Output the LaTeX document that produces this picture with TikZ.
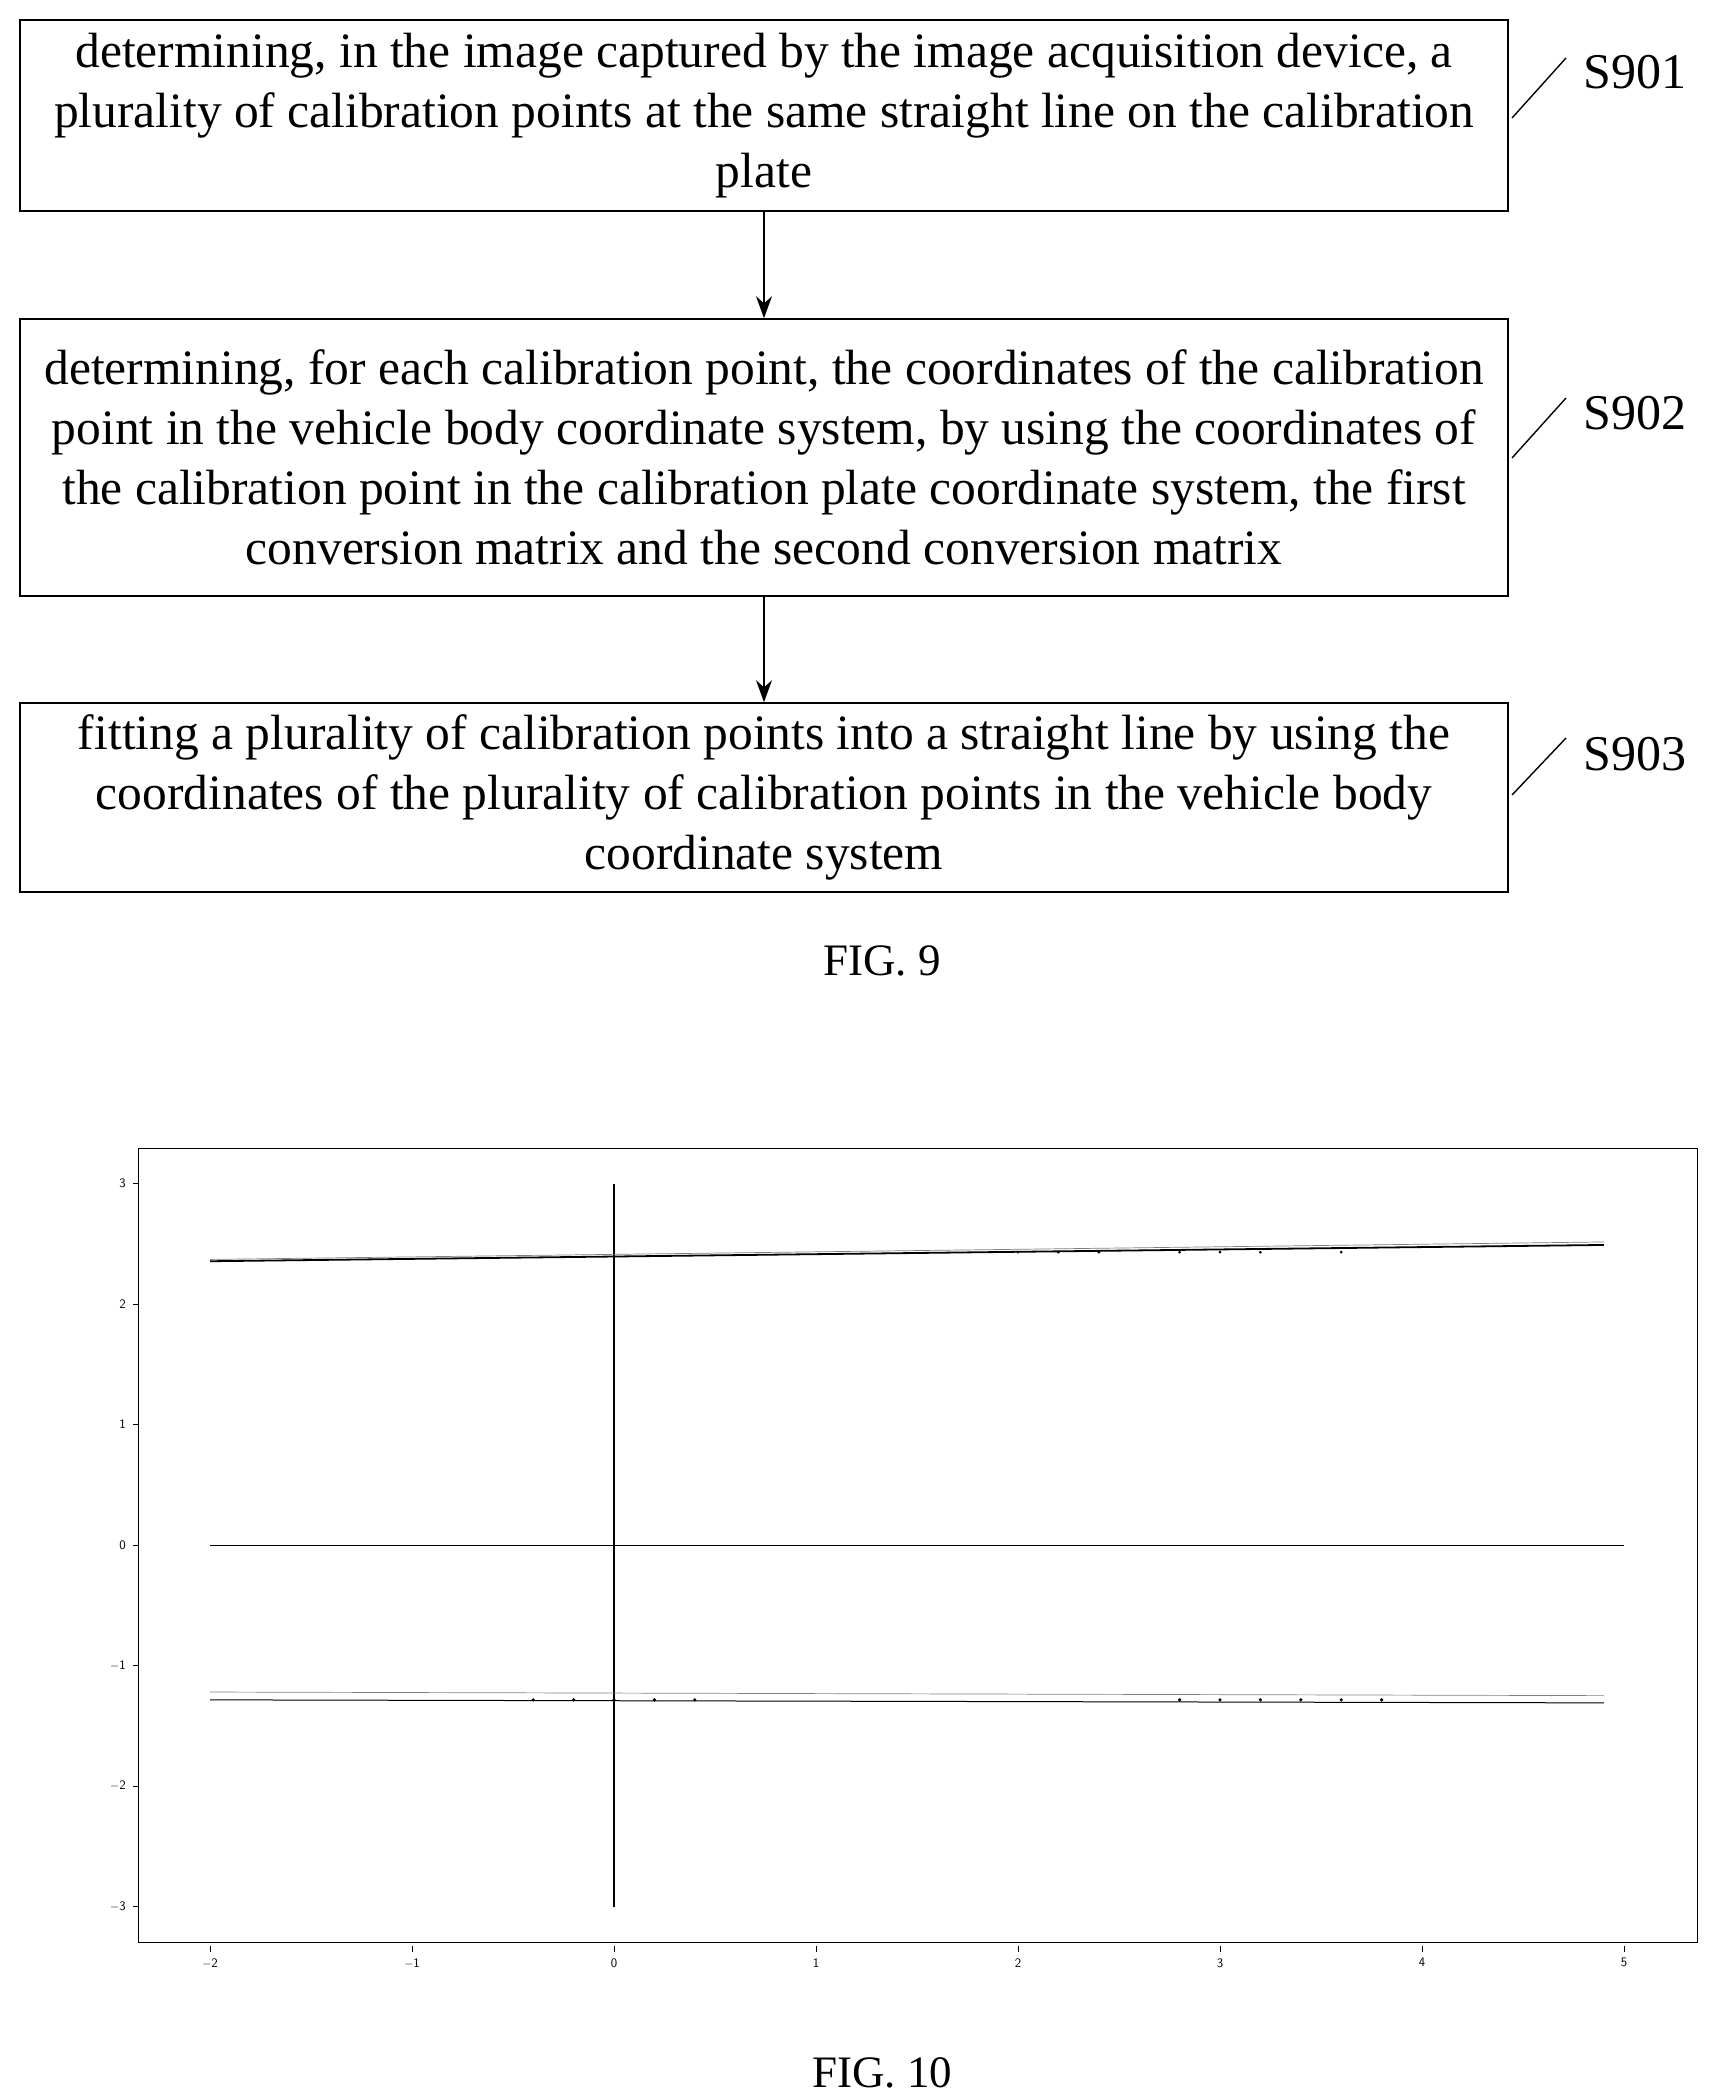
\documentclass[tikz,border=0pt]{standalone}
\usepackage{fontspec}
\setmainfont{Liberation Serif}
\usetikzlibrary{arrows.meta}
\begin{document}
\begin{tikzpicture}[x=1pt,y=-1pt,
  stepbox/.style={draw,line width=1.6pt,minimum width=1488pt,inner sep=0pt,align=center,font=\fontsize{49.5}{60}\selectfont},
  lbl/.style={font=\fontsize{50}{56}\selectfont},
  tick/.style={font=\sffamily\fontsize{13}{14}\selectfont},
  arr/.style={-{Stealth[length=22pt,width=16pt]},line width=1.8pt}]
\useasboundingbox (0,0) rectangle (1723,2098);
\node[stepbox,minimum height=191pt] (b1) at (764,115.5) {determining, in the image captured by the image acquisition device, a\\plurality of calibration points at the same straight line on the calibration\\plate};
\node[stepbox,minimum height=277pt] (b2) at (764,457.5) {determining, for each calibration point, the coordinates of the calibration\\point in the vehicle body coordinate system, by using the coordinates of\\the calibration point in the calibration plate coordinate system, the first\\conversion matrix and the second conversion matrix};
\node[stepbox,minimum height=189pt] (b3) at (764,797.5) {fitting a plurality of calibration points into a straight line by using the\\coordinates of the plurality of calibration points in the vehicle body\\coordinate system};
\draw[arr] (b1.south) -- (b2.north);
\draw[arr] (b2.south) -- (b3.north);
\node[lbl,anchor=west] (s1) at (1580,72) {S901};
\node[lbl,anchor=west] (s2) at (1580,413) {S902};
\node[lbl,anchor=west] (s3) at (1580,754) {S903};
\coordinate (c1) at (1512,118); \coordinate (d1) at (1566,58);
\coordinate (c2) at (1512,458); \coordinate (d2) at (1566,398);
\coordinate (c3) at (1512,795); \coordinate (d3) at (1566,738);
\draw[line width=1.4pt] (c1) -- (d1); \draw[line width=1.4pt] (c2) -- (d2); \draw[line width=1.4pt] (c3) -- (d3);
\node[lbl,font=\fontsize{45}{50}\selectfont] (f9) at (882,961) {FIG. 9};
\node[lbl,font=\fontsize{45}{50}\selectfont] (f10) at (882,2073) {FIG. 10};
% plot
\draw[line width=0.8pt] (138,1148) rectangle (1697,1942);
\begin{scope}[shift={(614,1545)},x=202pt,y=120.5pt]
 \foreach \v in {-2,...,5} {\draw[line width=0.6pt] (\v,-3.33) -- ++(0,-0.05); \node[tick,anchor=north] at (\v,-3.4) {\ifnum\v<0 $-$\the\numexpr-\v\relax\else\v\fi};}
 \foreach \v in {-3,...,3} {\draw[line width=0.6pt] (-2.35,\v) -- ++(-0.03,0); \node[tick,anchor=east] at (-2.4,\v) {\ifnum\v<0 $-$\the\numexpr-\v\relax\else\v\fi};}
 \draw[line width=1.8pt] (0,-3) -- (0,3);
 \draw[line width=0.9pt] (-2,0) -- (5,0);
 \draw[line width=1.8pt] (-2,2.355) -- (4.9,2.49);
 \draw[line width=0.7pt,gray] (-2,2.37) -- (4.9,2.515);
 \draw[line width=0.7pt,gray] (-2,-1.22) -- (4.9,-1.25);
 \draw[line width=1pt] (-2,-1.285) -- (4.9,-1.31);
 \foreach \x in {-0.4,-0.2,0,0.2,0.4,2.8,3,3.2,3.4,3.6,3.8} \fill (\x,-1.285) circle (1.8pt);
 \foreach \x in {2,2.2,2.4,2.8,3,3.2,3.6} \fill (\x,2.43) circle (1.5pt);
\end{scope}
\end{tikzpicture}
\end{document}
